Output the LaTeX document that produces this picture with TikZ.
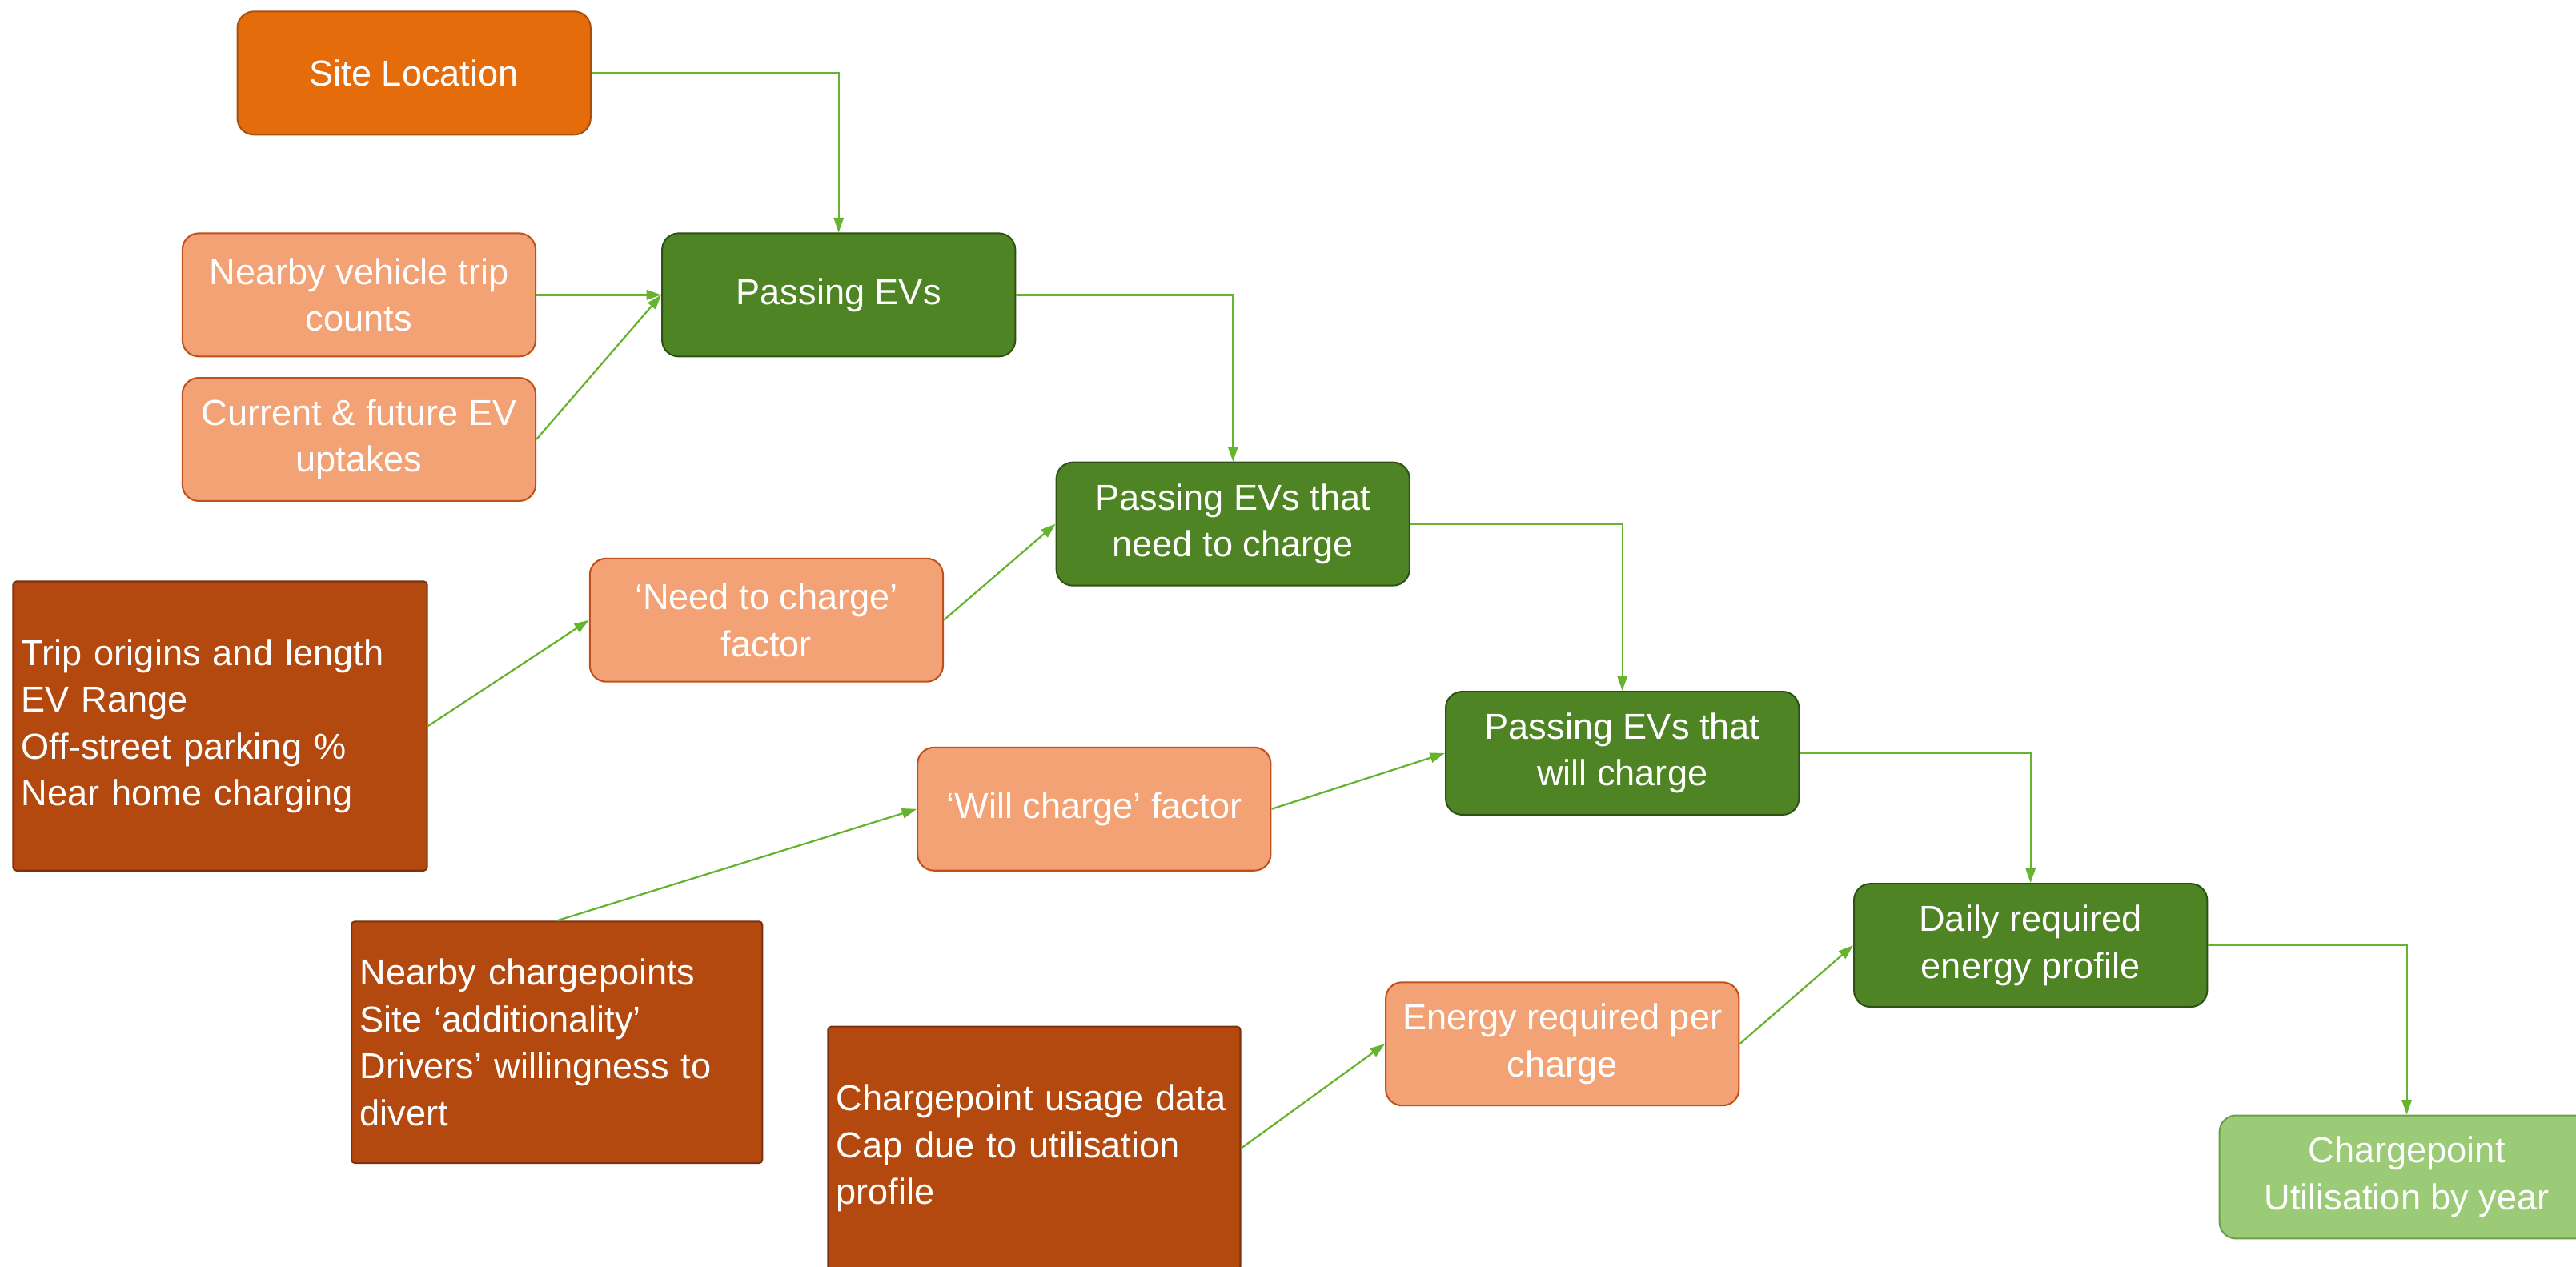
\documentclass[tikz,border=0pt]{standalone}
\usepackage{fontspec}
\setmainfont{Liberation Sans}
\usetikzlibrary{arrows.meta}
\definecolor{siteor}{HTML}{E46C0A}
\definecolor{siteorB}{HTML}{A9500F}
\definecolor{salmon}{HTML}{F2A275}
\definecolor{salmonB}{HTML}{C0501A}
\definecolor{brown}{HTML}{B4490F}
\definecolor{brownB}{HTML}{7A3310}
\definecolor{dgreen}{HTML}{4E8424}
\definecolor{dgreenB}{HTML}{2E5216}
\definecolor{lgreen}{HTML}{9BCB77}
\definecolor{lgreenB}{HTML}{6E9F48}
\definecolor{conn}{HTML}{65B32E}
\tikzset{
  base/.style={font=\fontsize{22}{28.5}\selectfont, text=white, line width=1pt, inner sep=0pt},
  rbox/.style={base, rounded corners=10pt, minimum width=215pt, minimum height=75pt, align=center},
  sitebox/.style={rbox, fill=siteor, draw=siteorB},
  inbox/.style={rbox, fill=salmon, draw=salmonB},
  gbox/.style={rbox, fill=dgreen, draw=dgreenB},
  lgbox/.style={rbox, fill=lgreen, draw=lgreenB},
  databox/.style={base, rounded corners=2pt, fill=brown, draw=brownB, align=left},
  link/.style={draw=conn, line width=1.1pt, -{Triangle[length=9pt,width=6pt]}}
}
\begin{document}
\begin{tikzpicture}[x=1pt,y=-1pt]
\useasboundingbox (0,0) rectangle (1568,771);
\clip (0,0) rectangle (1568,771);
\fill[white] (0,0) rectangle (1568,771);

\node[sitebox] (site) at (252,44.5) {Site Location};
\node[inbox] (trips) at (218.5,179.5) {Nearby vehicle trip\\counts};
\node[inbox] (uptake) at (218.5,267.5) {Current \& future EV\\uptakes};
\node[gbox] (pass) at (510.5,179.5) {Passing EVs};
\node[inbox] (needf) at (466.5,377.5) {‘Need to charge’\\factor};
\node[gbox] (passneed) at (750.5,319) {Passing EVs that\\need to charge};
\node[databox, minimum width=252pt, minimum height=176pt, text width=242pt] (tripbox) at (134,442)
  {Trip origins and length\\EV Range\\Off-street parking \%\\Near home charging};
\node[inbox] (willf) at (666,492.5) {‘Will charge’ factor};
\node[gbox] (passwill) at (987.5,458.5) {Passing EVs that\\will charge};
\node[databox, minimum width=250pt, minimum height=147pt, text width=240pt] (nearcp) at (339,634.5)
  {Nearby chargepoints\\Site ‘additionality’\\Drivers’ willingness to\\divert};
\node[databox, minimum width=251pt, minimum height=148pt, text width=241pt] (cpusage) at (629.5,699)
  {Chargepoint usage data\\Cap due to utilisation\\profile};
\node[inbox] (energy) at (951,635.5) {Energy required per\\charge};
\node[gbox] (daily) at (1236,575.5) {Daily required\\energy profile};
\node[lgbox, minimum width=228pt] (util) at (1465,716.5) {Chargepoint\\Utilisation by year};

\draw[link] (site.east) -| (pass.north);
\draw[link] (trips.east) -- (pass.west);
\draw[link] (uptake.east) -- (pass.west);
\draw[link] (pass.east) -| (passneed.north);
\draw[link] (tripbox.east) -- (needf.west);
\draw[link] (needf.east) -- (passneed.west);
\draw[link] (passneed.east) -| (passwill.north);
\draw[link] (nearcp.north) -- (willf.west);
\draw[link] (willf.east) -- (passwill.west);
\draw[link] (passwill.east) -| (daily.north);
\draw[link] (cpusage.east) -- (energy.west);
\draw[link] (energy.east) -- (daily.west);
\draw[link] (daily.east) -| (util.north);
\end{tikzpicture}
\end{document}
